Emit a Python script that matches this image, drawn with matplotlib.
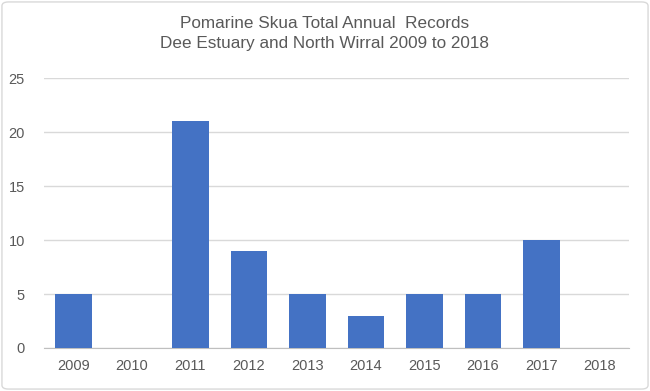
import matplotlib.pyplot as plt
from matplotlib.patches import FancyBboxPatch

# Годы и количество записей
years = ['2009', '2010', '2011', '2012', '2013', '2014', '2015', '2016', '2017', '2018']
records = [5, 0, 21, 9, 5, 3, 5, 5, 10, 0]
title = 'Pomarine Skua Total Annual  Records\nDee Estuary and North Wirral 2009 to 2018'

plt.rcParams['font.family'] = ['Liberation Sans', 'DejaVu Sans']

fig = plt.figure(figsize=(6.5, 3.91), dpi=100)
ax = fig.add_axes([0.068, 0.110, 0.900, 0.690])

x = range(len(years))
ax.bar(x, records, width=0.63, color='#4472C4', zorder=3)

ax.set_xlim(-0.5, len(years) - 0.5)
ax.set_ylim(0, 25)
ax.set_yticks([0, 5, 10, 15, 20, 25])
ax.set_xticks(list(x))
ax.set_xticklabels(years)
ax.grid(axis='y', color='#D9D9D9', linewidth=1, zorder=0)
ax.tick_params(axis='both', length=0, labelsize=10.5, colors='#595959')
ax.tick_params(axis='x', pad=8)
ax.tick_params(axis='y', pad=14)
for side in ['top', 'right', 'left']:
    ax.spines[side].set_visible(False)
ax.spines['bottom'].set_color('#BFBFBF')

fig.text(0.5, 0.915, title, ha='center', va='center', fontsize=12.3,
         color='#595959', linespacing=1.45)

border = FancyBboxPatch((0.003, 0.005), 0.994, 0.99, boxstyle='round,pad=0,rounding_size=0.01',
                        transform=fig.transFigure, fill=False, edgecolor='#D9D9D9', linewidth=1)
fig.patches.append(border)

fig.savefig('out.png', dpi=100)
